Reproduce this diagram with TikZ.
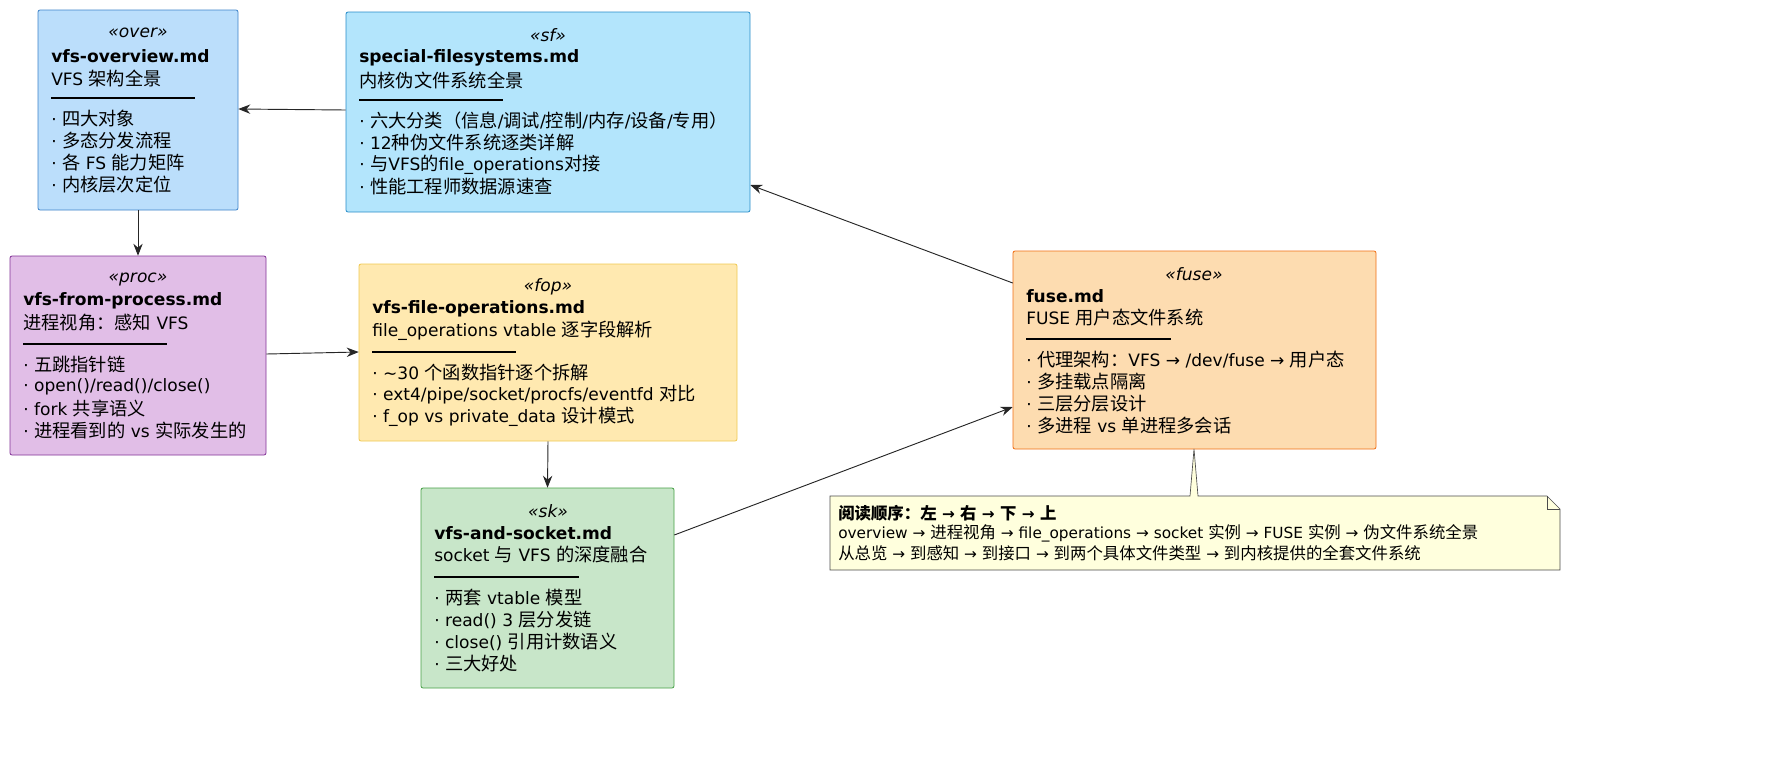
\documentclass[tikz,border=0pt]{standalone}
\usepackage{fontspec}
\usetikzlibrary{arrows.meta}
\setmainfont{DejaVu Sans}
\newfontfamily\cjk{Noto Sans CJK SC}[Scale=1.07]
\newXeTeXintercharclass\cjkclass
\makeatletter
\count@="2E80 \loop \XeTeXcharclass\count@=\cjkclass \advance\count@ 1 \ifnum\count@<"A000 \repeat
\count@="FF00 \loop \XeTeXcharclass\count@=\cjkclass \advance\count@ 1 \ifnum\count@<"FFF0 \repeat
\makeatother
\XeTeXinterchartoks 0 \cjkclass = {\begingroup\cjk}
\XeTeXinterchartoks 4095 \cjkclass = {\begingroup\cjk}
\XeTeXinterchartoks \cjkclass 0 = {\endgroup}
\XeTeXinterchartoks \cjkclass 4095 = {\endgroup}
\XeTeXinterchartokenstate=1
\begin{document}
\begin{tikzpicture}[x=0.75pt,y=-0.75pt,
  box/.style={draw, rounded corners=1.5pt, line width=0.6pt, inner sep=0},
  txt/.style={anchor=west, inner sep=0, font=\fontsize{12.8}{15}\selectfont},
  st/.style={anchor=center, inner sep=0, font=\itshape\fontsize{12.8}{15}\selectfont},
  sep/.style={line width=0.8pt},
  arr/.style={-{Stealth[length=9pt,width=7pt]}, line width=0.7pt, black!85}]
\useasboundingbox (0,0) rectangle (1770,783);
\newcommand\lines[3]{\foreach \t [count=\i from 0] in {#3} \node[txt] at (#1,#2+22*\i) {\t};}
\newcommand\mkbox[7]{% name,x1,y1,x2,y2,fill,draw
  \path[box, fill=#6, draw=#7] (#2,#3) rectangle (#4,#5);
  \node[inner sep=0, minimum width={(#4-#2)*0.75pt}, minimum height={(#5-#3)*0.75pt}] (#1) at ({(#2+#4)/2},{(#3+#5)/2}) {};}
\definecolor{c1}{RGB}{187,222,251}\definecolor{d1}{RGB}{60,130,200}
\definecolor{c2}{RGB}{179,229,252}\definecolor{d2}{RGB}{40,140,200}
\definecolor{c3}{RGB}{225,190,231}\definecolor{d3}{RGB}{130,50,150}
\definecolor{c4}{RGB}{255,233,176}\definecolor{d4}{RGB}{240,200,80}
\definecolor{c5}{RGB}{200,230,201}\definecolor{d5}{RGB}{70,160,70}
\definecolor{c6}{RGB}{253,220,176}\definecolor{d6}{RGB}{240,110,20}
\definecolor{nt}{RGB}{255,255,221}
\mkbox{over}{38}{10}{238}{210}{c1}{d1}
\mkbox{sf}{346}{12}{750}{212}{c2}{d2}
\mkbox{proc}{10}{256}{266}{455}{c3}{d3}
\mkbox{fop}{359}{264}{737}{441}{c4}{d4}
\mkbox{sk}{421}{488}{674}{688}{c5}{d5}
\mkbox{fuse}{1013}{251}{1376}{449}{c6}{d6}
% over
\node[st] at (138,33) {«over»};
\lines{51}{56}{\textbf{vfs-overview.md},VFS 架构全景}
\draw[sep] (51,98) -- (195,98);
\lines{51}{119}{· 四大对象,· 多态分发流程,· 各 FS 能力矩阵,· 内核层次定位}
% sf
\node[st] at (548,35) {«sf»};
\lines{359}{58}{\textbf{special-filesystems.md},内核伪文件系统全景}
\draw[sep] (359,100) -- (503,100);
\lines{359}{121}{· 六大分类（信息/调试/控制/内存/设备/专用）,· 12种伪文件系统逐类详解,· 与VFS的file\_operations对接,· 性能工程师数据源速查}
% proc
\node[st] at (138,279) {«proc»};
\lines{23}{301}{\textbf{vfs-from-process.md},进程视角：感知 VFS}
\draw[sep] (23,344) -- (167,344);
\lines{23}{365}{· 五跳指针链,· open()/read()/close(),· fork 共享语义,· 进程看到的 vs 实际发生的}
% fop
\node[st] at (548,287) {«fop»};
\lines{372}{309}{\textbf{vfs-file-operations.md},file\_operations vtable 逐字段解析}
\draw[sep] (372,352) -- (516,352);
\lines{372}{373}{· \textasciitilde30 个函数指针逐个拆解,· ext4/pipe/socket/procfs/eventfd 对比,· f\_op vs private\_data 设计模式}
% sk
\node[st] at (548,511) {«sk»};
\lines{434}{533}{\textbf{vfs-and-socket.md},socket 与 VFS 的深度融合}
\draw[sep] (434,577) -- (579,577);
\lines{434}{598}{· 两套 vtable 模型,· read() 3 层分发链,· close() 引用计数语义,· 三大好处}
% fuse
\node[st] at (1194,274) {«fuse»};
\lines{1026}{296}{\textbf{fuse.md},FUSE 用户态文件系统}
\draw[sep] (1026,339) -- (1171,339);
\lines{1026}{360}{· 代理架构：VFS → /dev/fuse → 用户态,· 多挂载点隔离,· 三层分层设计,· 多进程 vs 单进程多会话}
% note
\path[draw=black!70, line width=0.5pt, fill=nt]
  (830,496) -- (1190,496) -- (1194,449) -- (1198,496) -- (1547,496) -- (1560,509) -- (1560,570) -- (830,570) -- cycle;
\draw[black!70, line width=0.5pt] (1547,496) -- (1547,509) -- (1560,509);
\node[inner sep=0] (note) at (1195,533) {};
\node[anchor=west, inner sep=0, font=\bfseries\fontsize{11.5}{14}\selectfont] at (838,513) {阅读顺序：左 → 右 → 下 → 上};
\node[anchor=west, inner sep=0, font=\fontsize{11.5}{14}\selectfont] at (838,533) {overview → 进程视角 → file\_operations → socket 实例 → FUSE 实例 → 伪文件系统全景};
\node[anchor=west, inner sep=0, font=\fontsize{11.5}{14}\selectfont] at (838,553) {从总览 → 到感知 → 到接口 → 到两个具体文件类型 → 到内核提供的全套文件系统};
% arrows
\draw[arr] (sf.west |- 0,110) -- (over.east |- 0,109);
\draw[arr] (over.south) -- (proc.north);
\draw[arr] (proc.east |- 0,354) -- (fop.west |- 0,352);
\draw[arr] (fop.south) -- (sk.north);
\draw[arr] (sk.east |- 0,535) -- (fuse.west |- 0,407);
\draw[arr] (fuse.west |- 0,283) -- (sf.east |- 0,185);
\end{tikzpicture}
\end{document}
